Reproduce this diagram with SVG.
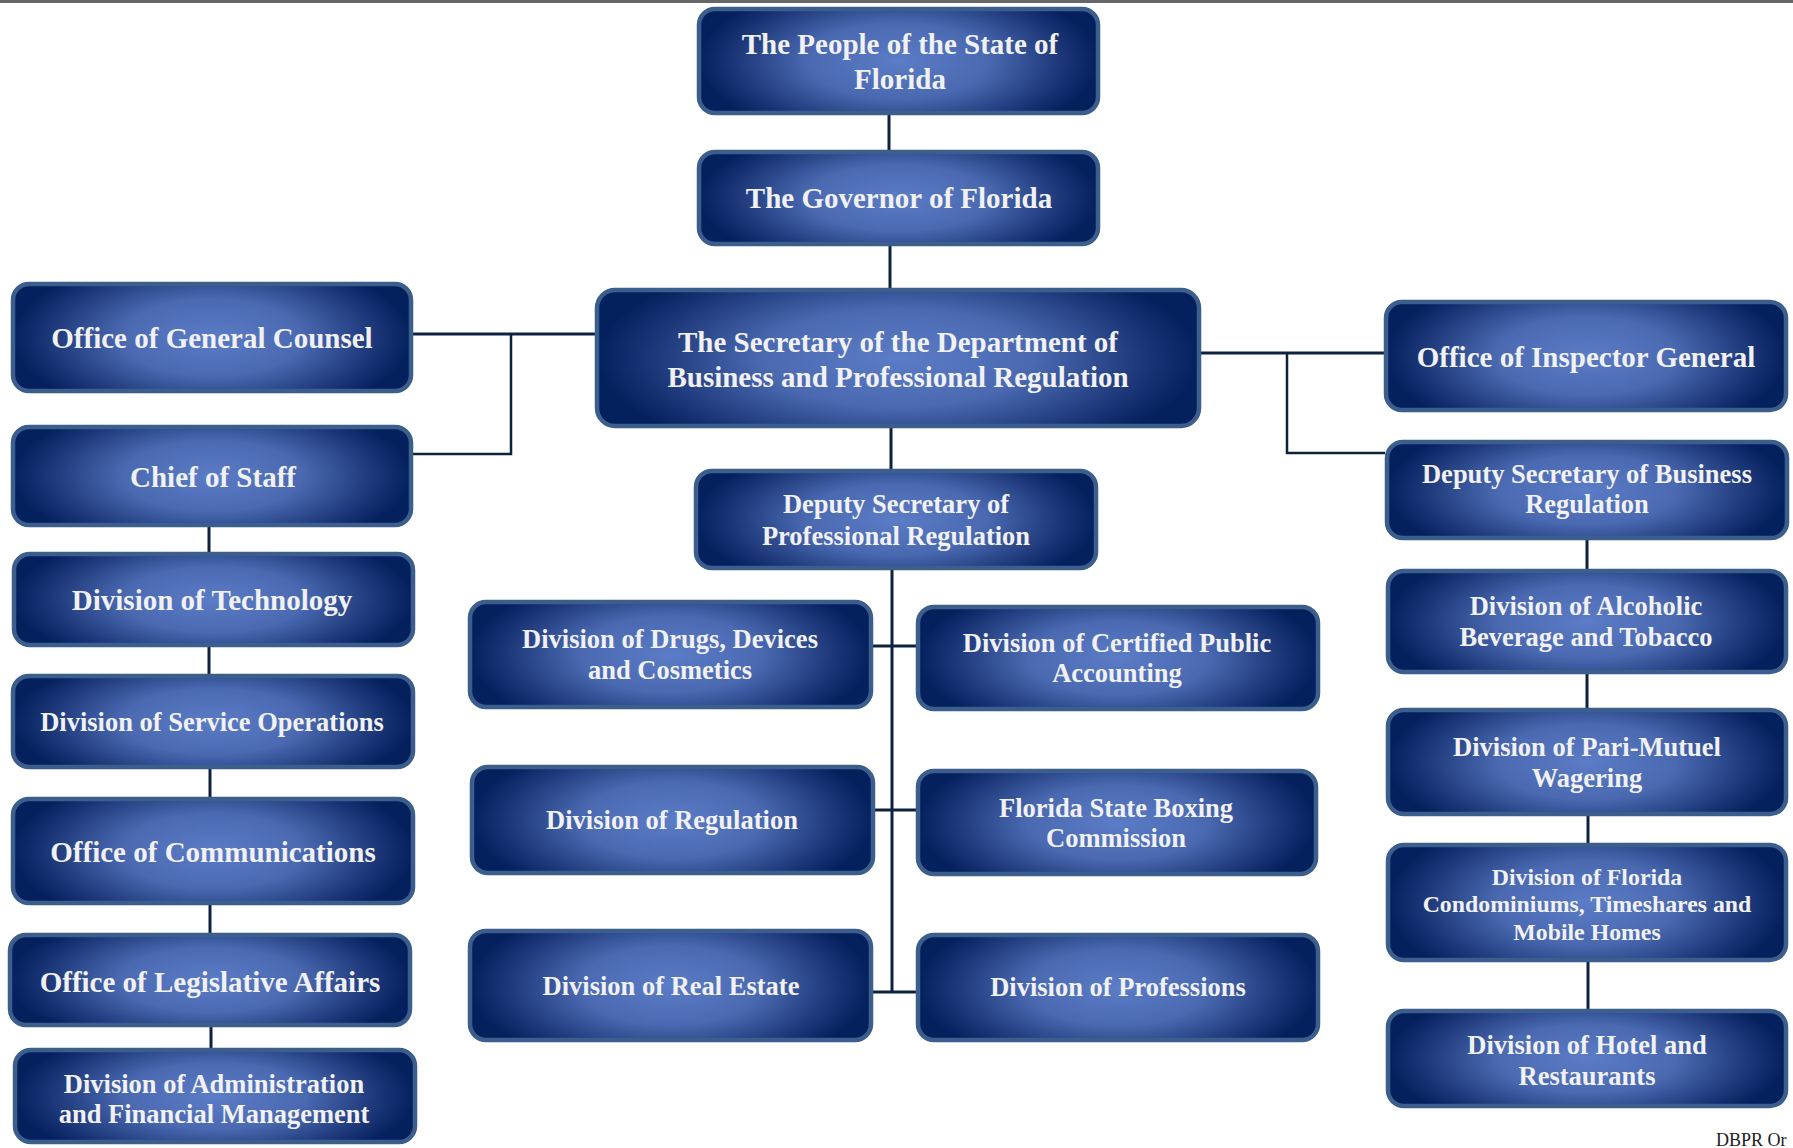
<svg xmlns="http://www.w3.org/2000/svg" width="1793" height="1148" viewBox="0 0 1793 1148">
<defs>
<radialGradient id="bg" cx="0.5" cy="0.5" r="0.5" gradientTransform="translate(0.5 0.5) scale(1 1.6) translate(-0.5 -0.5)">
<stop offset="0" stop-color="#5b7cc6"/>
<stop offset="0.45" stop-color="#4a69b1"/>
<stop offset="0.85" stop-color="#183373"/>
<stop offset="1" stop-color="#04205d"/>
</radialGradient>
</defs>
<style>
.box{fill:url(#bg);stroke:#3b5e8d;stroke-width:4.5}
.t{font-family:"Liberation Serif","Times New Roman",serif;font-weight:bold;fill:#f1f1f1;text-anchor:middle}
.l{font-size:29px}
.m{font-size:26.5px}
.s{font-size:23.8px}
.c{stroke:#0e2240;fill:none;stroke-width:3}
.c2{stroke:#0e2240;fill:none;stroke-width:2.5}
</style>
<rect x="0" y="0" width="1793" height="3" fill="#666"/>
<g id="connectors">
<line class="c" x1="889" y1="115" x2="889" y2="150"/>
<line class="c" x1="890" y1="246" x2="890" y2="288"/>
<line class="c" x1="891" y1="428" x2="891" y2="469"/>
<line class="c" x1="892" y1="570" x2="892" y2="993"/>
<line class="c" x1="873" y1="646" x2="916" y2="646"/>
<line class="c" x1="875" y1="810" x2="916" y2="810"/>
<line class="c" x1="873" y1="992" x2="916" y2="992"/>
<line class="c" x1="413" y1="334" x2="595" y2="334"/>
<polyline class="c2" points="511,334 511,454 413,454"/>
<line class="c" x1="1201" y1="353" x2="1384" y2="353"/>
<polyline class="c2" points="1287,353 1287,453 1385,453"/>
<line class="c" x1="209" y1="527" x2="209" y2="552"/>
<line class="c" x1="209" y1="647" x2="209" y2="674"/>
<line class="c" x1="210" y1="769" x2="210" y2="797"/>
<line class="c" x1="210" y1="905" x2="210" y2="933"/>
<line class="c" x1="211" y1="1027" x2="211" y2="1048"/>
<line class="c" x1="1587" y1="540" x2="1587" y2="569"/>
<line class="c" x1="1587" y1="674" x2="1587" y2="708"/>
<line class="c" x1="1588" y1="816" x2="1588" y2="843"/>
<line class="c" x1="1588" y1="962" x2="1588" y2="1009"/>
</g>
<g id="people"><rect class="box" x="699" y="9" width="399" height="104" rx="16"/><text class="t l" x="900" y="54">The People of the State of</text><text class="t l" x="900" y="89">Florida</text></g>
<g id="governor"><rect class="box" x="699" y="152" width="399" height="92" rx="16"/><text class="t l" x="899" y="208">The Governor of Florida</text></g>
<g id="secretary"><rect class="box" x="597" y="290" width="602" height="136" rx="18"/><text class="t l" x="898" y="352">The Secretary of the Department of</text><text class="t l" x="898" y="387">Business and Professional Regulation</text></g>
<g id="general-counsel"><rect class="box" x="13" y="284" width="398" height="107" rx="16"/><text class="t l" x="212" y="348">Office of General Counsel</text></g>
<g id="chief-of-staff"><rect class="box" x="13" y="427" width="398" height="98" rx="16"/><text class="t l" x="213" y="487">Chief of Staff</text></g>
<g id="technology"><rect class="box" x="14" y="554" width="399" height="91" rx="16"/><text class="t l" x="212" y="610">Division of Technology</text></g>
<g id="service-operations"><rect class="box" x="13" y="676" width="400" height="91" rx="16"/><text class="t m" x="212" y="731">Division of Service Operations</text></g>
<g id="communications"><rect class="box" x="13" y="799" width="400" height="104" rx="16"/><text class="t l" x="213" y="862">Office of Communications</text></g>
<g id="legislative"><rect class="box" x="10" y="935" width="400" height="90" rx="16"/><text class="t l" x="210" y="992">Office of Legislative Affairs</text></g>
<g id="administration"><rect class="box" x="15" y="1050" width="400" height="92" rx="16"/><text class="t m" x="214" y="1093">Division of Administration</text><text class="t m" x="214" y="1123">and Financial Management</text></g>
<g id="inspector-general"><rect class="box" x="1386" y="302" width="400" height="108" rx="16"/><text class="t l" x="1586" y="367">Office of Inspector General</text></g>
<g id="deputy-business"><rect class="box" x="1387" y="442" width="400" height="96" rx="16"/><text class="t m" x="1587" y="483">Deputy Secretary of Business</text><text class="t m" x="1587" y="513">Regulation</text></g>
<g id="alcoholic"><rect class="box" x="1388" y="571" width="398" height="101" rx="16"/><text class="t m" x="1586" y="615">Division of Alcoholic</text><text class="t m" x="1586" y="646">Beverage and Tobacco</text></g>
<g id="pari-mutuel"><rect class="box" x="1388" y="710" width="398" height="104" rx="16"/><text class="t m" x="1587" y="756">Division of Pari-Mutuel</text><text class="t m" x="1587" y="787">Wagering</text></g>
<g id="condominiums"><rect class="box" x="1388" y="845" width="398" height="115" rx="16"/><text class="t s" x="1587" y="885">Division of Florida</text><text class="t s" x="1587" y="912">Condominiums, Timeshares and</text><text class="t s" x="1587" y="940">Mobile Homes</text></g>
<g id="hotel"><rect class="box" x="1388" y="1011" width="398" height="95" rx="16"/><text class="t m" x="1587" y="1054">Division of Hotel and</text><text class="t m" x="1587" y="1085">Restaurants</text></g>
<g id="deputy-professional"><rect class="box" x="696" y="471" width="400" height="97" rx="16"/><text class="t m" x="896" y="513">Deputy Secretary of</text><text class="t m" x="896" y="545">Professional Regulation</text></g>
<g id="drugs"><rect class="box" x="470" y="602" width="401" height="105" rx="16"/><text class="t m" x="670" y="648">Division of Drugs, Devices</text><text class="t m" x="670" y="679">and Cosmetics</text></g>
<g id="cpa"><rect class="box" x="918" y="607" width="400" height="102" rx="16"/><text class="t m" x="1117" y="652">Division of Certified Public</text><text class="t m" x="1117" y="682">Accounting</text></g>
<g id="regulation"><rect class="box" x="472" y="767" width="401" height="106" rx="16"/><text class="t m" x="672" y="829">Division of Regulation</text></g>
<g id="boxing"><rect class="box" x="918" y="771" width="398" height="103" rx="16"/><text class="t m" x="1116" y="817">Florida State Boxing</text><text class="t m" x="1116" y="847">Commission</text></g>
<g id="real-estate"><rect class="box" x="470" y="931" width="401" height="109" rx="16"/><text class="t m" x="671" y="995">Division of Real Estate</text></g>
<g id="professions"><rect class="box" x="918" y="935" width="400" height="105" rx="16"/><text class="t m" x="1118" y="996">Division of Professions</text></g>
<text x="1716" y="1146" font-family="'Liberation Serif',serif" font-size="18" fill="#222">DBPR Or</text>
</svg>
